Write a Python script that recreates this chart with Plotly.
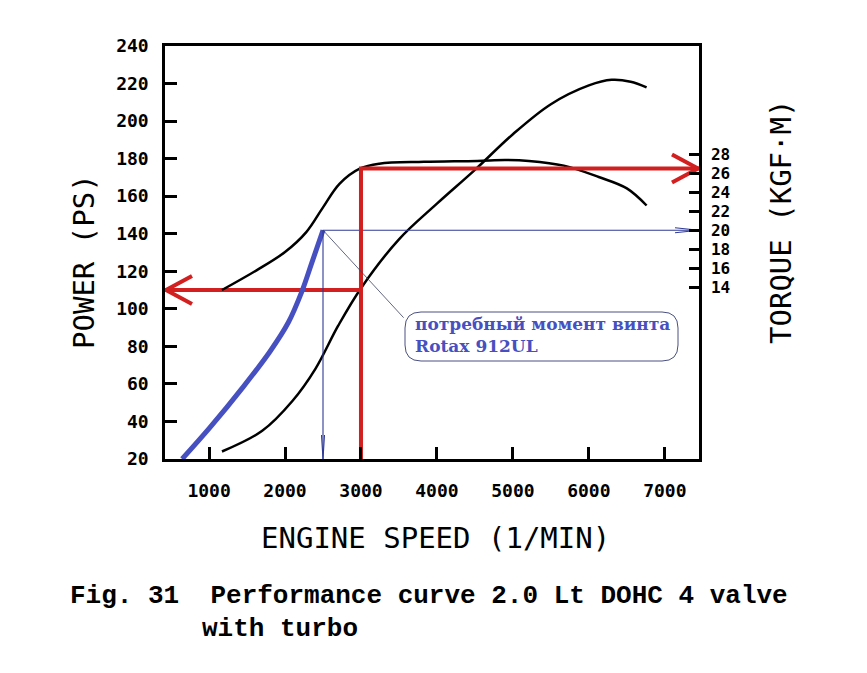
import plotly.graph_objects as go

# curves
rpm_power = [1170, 1700, 2100, 2400, 2700, 3000, 3500, 4000, 4500, 5000, 5500, 6000, 6300, 6550, 6760]
power_ps = [24, 35, 51, 68, 91, 111, 137, 156, 174, 193, 209, 219, 222, 221, 218]

rpm_torque = [1170, 1630, 2000, 2280, 2500, 2720, 2990, 3240, 3830, 4530, 4900, 5210, 5670, 6130, 6500, 6760]
torque_kgfm = [13.7, 15.8, 17.7, 19.8, 22.4, 24.9, 26.5, 27.0, 27.2, 27.3, 27.4, 27.3, 26.8, 25.6, 24.4, 22.6]

# required propeller torque (Rotax 912UL)
rpm_prop = [645, 1010, 1450, 1800, 2045, 2220, 2350, 2500]
prop_torque = [-4.1, -0.8, 3.5, 7.2, 10.3, 13.5, 16.5, 20.0]

# marked operating points
mark_rpm = 3000
mark_power = 110
mark_torque = 26.5
prop_rpm = 2500
prop_peak = 20

x_ticks = [1000, 2000, 3000, 4000, 5000, 6000, 7000]
power_ticks = list(range(20, 241, 20))
torque_ticks = [14, 16, 18, 20, 22, 24, 26, 28]

X_RANGE = [420, 7450]
P_RANGE = [20, 240]
T_RANGE = [-4.1, 39.4]

# plot area in page pixels (the page body adds an 8px offset)
W, H = 867, 673
OFF = 8
L, R, T, B = 165, 699, 46, 459


def px(x):
    return (x - L) / (R - L)


def py(y):
    return (B - y) / (B - T)


rpm_px = (X_RANGE[1] - X_RANGE[0]) / (R - L)
t_px = (T_RANGE[1] - T_RANGE[0]) / (B - T)
p_px = (P_RANGE[1] - P_RANGE[0]) / (B - T)

RED = "#d21f1f"
BLUE = "#4650c0"
THIN = "#2f3a96"

fig = go.Figure()

fig.add_trace(go.Scatter(x=rpm_power, y=power_ps, mode="lines", line=dict(color="black", width=2.5, shape="spline"), yaxis="y"))
fig.add_trace(go.Scatter(x=rpm_torque, y=torque_kgfm, mode="lines", line=dict(color="black", width=2.5, shape="spline"), yaxis="y2"))
fig.add_trace(go.Scatter(x=rpm_prop, y=prop_torque, mode="lines", line=dict(color=BLUE, width=5, shape="spline"), yaxis="y2"))

# thin blue guides at the propeller point
fig.add_trace(go.Scatter(x=[prop_rpm, prop_rpm, X_RANGE[1]], y=[T_RANGE[0], prop_peak, prop_peak],
                         mode="lines", line=dict(color=THIN, width=1.1), yaxis="y2"))
tip = X_RANGE[1]
fig.add_trace(go.Scatter(x=[tip - 24 * rpm_px, tip, tip - 24 * rpm_px], y=[prop_peak + 2.5 * t_px, prop_peak, prop_peak - 2.5 * t_px],
                         mode="lines", line=dict(color=THIN, width=1.1), yaxis="y2"))
fig.add_trace(go.Scatter(x=[prop_rpm - 1.5 * rpm_px, prop_rpm, prop_rpm + 1.5 * rpm_px], y=[T_RANGE[0] + 24 * t_px, T_RANGE[0], T_RANGE[0] + 24 * t_px],
                         mode="lines", line=dict(color=THIN, width=1.1), yaxis="y2"))

# red operating point lines
fig.add_trace(go.Scatter(x=[mark_rpm, mark_rpm, X_RANGE[1]], y=[T_RANGE[0], mark_torque, mark_torque],
                         mode="lines", line=dict(color=RED, width=4), yaxis="y2"))
fig.add_trace(go.Scatter(x=[tip - 27 * rpm_px, tip - 1 * rpm_px, tip - 27 * rpm_px], y=[mark_torque + 14 * t_px, mark_torque, mark_torque - 14 * t_px],
                         mode="lines", line=dict(color=RED, width=4), yaxis="y2"))
left = X_RANGE[0]
fig.add_trace(go.Scatter(x=[mark_rpm, left], y=[mark_power, mark_power],
                         mode="lines", line=dict(color=RED, width=4), yaxis="y"))
fig.add_trace(go.Scatter(x=[left + 27 * rpm_px, left + 1 * rpm_px, left + 27 * rpm_px], y=[mark_power + 14 * p_px, mark_power, mark_power - 14 * p_px],
                         mode="lines", line=dict(color=RED, width=4), yaxis="y"))

tick_font = dict(family="DejaVu Sans Mono", size=18, color="black", weight="bold")
rtick_font = dict(family="DejaVu Sans Mono", size=16, color="black", weight="bold")
title_font = dict(family="DejaVu Sans Mono", size=29, color="black")
cap_font = dict(family="Liberation Mono", size=26, color="black", weight="bold")

# rounded callout box
x0, x1, y0, y1, r = 405, 678, 312, 361, 16
box = (f"M {px(x0 + r)},{py(y0)} L {px(x1 - r)},{py(y0)} Q {px(x1)},{py(y0)} {px(x1)},{py(y0 + r)} "
       f"L {px(x1)},{py(y1 - r)} Q {px(x1)},{py(y1)} {px(x1 - r)},{py(y1)} "
       f"L {px(x0 + r)},{py(y1)} Q {px(x0)},{py(y1)} {px(x0)},{py(y1 - r)} "
       f"L {px(x0)},{py(y0 + r)} Q {px(x0)},{py(y0)} {px(x0 + r)},{py(y0)} Z")


def label(x, y, text, font, angle=0, xanchor="center"):
    return dict(x=px(x), y=py(y), xref="paper", yref="paper", xanchor=xanchor, yanchor="middle",
                textangle=angle, showarrow=False, text=text, font=font, align="left")


fig.update_layout(
    width=W, height=H,
    margin=dict(l=L - OFF, r=W - R + OFF, t=T - OFF, b=H - B + OFF),
    paper_bgcolor="white", plot_bgcolor="white",
    showlegend=False,
    xaxis=dict(range=X_RANGE, tickvals=x_ticks, ticks="inside", ticklen=12, tickwidth=2.5, tickcolor="black",
               showline=True, linewidth=2.5, linecolor="black", mirror=True, showgrid=False, zeroline=False,
               tickfont=tick_font, ticklabelstandoff=14),
    yaxis=dict(range=P_RANGE, tickvals=power_ticks, ticks="inside", ticklen=12, tickwidth=2.5, tickcolor="black",
               showline=True, linewidth=2.5, linecolor="black", mirror=True, showgrid=False, zeroline=False,
               tickfont=tick_font, ticklabelstandoff=10),
    yaxis2=dict(range=T_RANGE, tickvals=torque_ticks, overlaying="y", side="right", ticks="inside", ticklen=10,
                tickwidth=2.5, tickcolor="black", showline=True, linewidth=2.5, linecolor="black",
                showgrid=False, zeroline=False, tickfont=rtick_font, ticklabelstandoff=6),
    shapes=[dict(type="path", xref="paper", yref="paper", path=box, line=dict(color="#4a5180", width=1))],
    annotations=[
        dict(x=prop_rpm, y=prop_peak, xref="x", yref="y2", ax=82, ay=89, text="", showarrow=True,
             arrowhead=0, arrowwidth=0.8, arrowcolor="#3a4060"),
        label(413, 335, "потребный момент винта<br>Rotax 912UL",
              dict(family="DejaVu Serif", size=17, color=BLUE, weight="bold"), xanchor="left"),
        label(84, 262, "POWER (PS)", title_font, angle=-90),
        label(781, 222, "TORQUE (KGF·M)", title_font, angle=-90),
        label(435, 538, "ENGINE SPEED (1/MIN)", title_font),
        label(68, 596, "Fig. 31  Performance curve 2.0 Lt DOHC 4 valve", cap_font, xanchor="left"),
        label(200, 629, "with turbo", cap_font, xanchor="left"),
    ],
)

fig.write_html("out.html")
